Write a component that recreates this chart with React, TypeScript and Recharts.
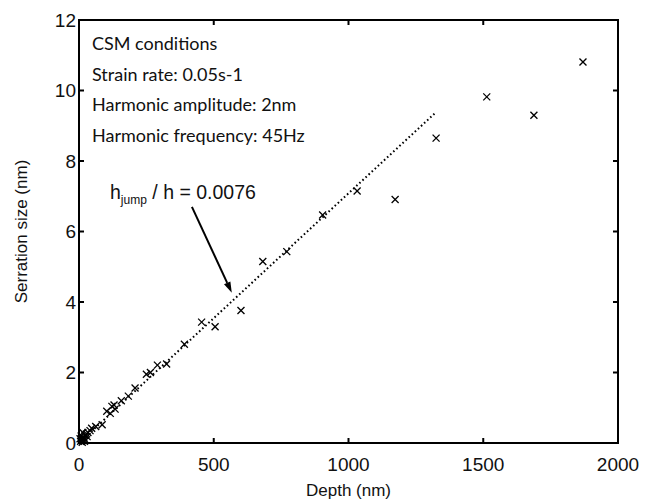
import { ScatterChart, Scatter, XAxis, YAxis, ReferenceLine, Label } from 'recharts';

// depth (nm) / serration size (nm)
const depth = [1870, 1513, 1688, 1325, 1032, 1173, 904, 771, 682, 601, 455, 505, 391, 325, 291, 265, 250, 208, 183, 157, 130, 134, 122, 103, 116, 86, 62, 47, 41, 33, 28, 22, 18, 14, 10, 8, 6, 4, 25, 12, 20, 30, 16];
const serration = [10.81, 9.82, 9.3, 8.65, 7.15, 6.91, 6.47, 5.43, 5.15, 3.76, 3.43, 3.3, 2.8, 2.24, 2.21, 2.0, 1.95, 1.56, 1.33, 1.2, 1.08, 0.96, 1.04, 0.9, 0.84, 0.52, 0.47, 0.42, 0.35, 0.3, 0.26, 0.22, 0.15, 0.3, 0.1, 0.2, 0.05, 0.12, 0.08, 0.02, 0.05, 0.18, 0.08];

// fitted line end points
const fitX = [0, 1320];
const fitY = [0, 9.35];

const xTicks = [0, 500, 1000, 1500, 2000];
const yTicks = [0, 2, 4, 6, 8, 10, 12];

const conditions = ['CSM conditions', 'Strain rate: 0.05s-1', 'Harmonic amplitude: 2nm', 'Harmonic frequency: 45Hz'];

// arrow from the label towards the fit line (data coords)
const arrowFrom = { x: 419, y: 6.7 };
const arrowTo = { x: 567, y: 4.26 };

const points = depth.map((d, i) => ({ x: d, y: serration[i] }));
const fit = fitX.map((x, i) => ({ x, y: fitY[i] }));

const xMax = xTicks[xTicks.length - 1];
const yMax = yTicks[yTicks.length - 1];

// chart box
const W = 646, H = 502;
const M = { top: 20, right: 28, bottom: 59, left: 79 };
const L = M.left, R = W - M.right, T = M.top, B = H - M.bottom;

const Cross = (props: any) => {
  const { cx, cy } = props;
  const s = 3.5;
  return (
    <g stroke="#000" strokeWidth={1.3}>
      <line x1={cx - s} y1={cy - s} x2={cx + s} y2={cy + s} />
      <line x1={cx - s} y1={cy + s} x2={cx + s} y2={cy - s} />
    </g>
  );
};

const Arrow = (props: any) => {
  const { x1, y1, x2, y2 } = props;
  const ang = Math.atan2(y2 - y1, x2 - x1);
  const len = 11, w = 3.5;
  const bx = x2 - len * Math.cos(ang);
  const by = y2 - len * Math.sin(ang);
  const px = -Math.sin(ang) * w, py = Math.cos(ang) * w;
  return (
    <g>
      <line x1={x1} y1={y1} x2={bx} y2={by} stroke="#000" strokeWidth={2} />
      <polygon points={`${x2},${y2} ${bx + px},${by + py} ${bx - px},${by - py}`} fill="#000" />
    </g>
  );
};

// box around the plot area with inward ticks on all four sides
const Frame = () => (
  <div style={{ position: 'absolute', left: 0, top: 0, width: W, height: H, pointerEvents: 'none' }}>
    <div
      style={{
        position: 'absolute',
        left: L - 1,
        top: T - 1,
        width: R - L - 2,
        height: B - T - 2,
        border: '2px solid #000',
      }}
    />
    <svg width={W} height={H} style={{ position: 'absolute', left: 0, top: 0 }}>
      <g stroke="#000" strokeWidth={2} fill="none">
        {xTicks.map((t) => {
          const x = L + ((R - L) * t) / xMax;
          return (
            <g key={`x${t}`}>
              <line x1={x} y1={B} x2={x} y2={B - 5} />
              <line x1={x} y1={T} x2={x} y2={T + 5} />
            </g>
          );
        })}
        {yTicks.map((t) => {
          const y = B - ((B - T) * t) / yMax;
          return (
            <g key={`y${t}`}>
              <line x1={L} y1={y} x2={L + 5} y2={y} />
              <line x1={R} y1={y} x2={R - 5} y2={y} />
            </g>
          );
        })}
      </g>
    </svg>
  </div>
);

const font = '"Liberation Sans", Arial, sans-serif';

export default function App() {
  return (
    <div style={{ position: 'absolute', left: 0, top: 0, width: W, height: H, background: '#fff' }}>
      <ScatterChart width={W} height={H} margin={{ top: M.top, right: M.right, bottom: 0, left: 0 }}>
        <XAxis
          xAxisId="b"
          type="number"
          dataKey="x"
          domain={[0, xMax]}
          ticks={xTicks}
          height={M.bottom}
          stroke="#000"
          strokeWidth={2}
          tickLine={false}
          tickSize={-5}
          tickMargin={20}
          tick={{ fill: '#111', fontSize: 19, fontFamily: font }}
        >
          <Label value="Depth (nm)" position="insideBottom" offset={6} style={{ fill: '#111', fontSize: 17, fontFamily: font }} />
        </XAxis>
        <YAxis
          yAxisId="l"
          type="number"
          dataKey="y"
          domain={[0, yMax]}
          ticks={yTicks}
          width={M.left}
          stroke="#000"
          strokeWidth={2}
          tickLine={false}
          tickSize={-5}
          tickMargin={8}
          tick={{ fill: '#111', fontSize: 19, fontFamily: font }}
        >
          <Label value="Serration size (nm)" angle={-90} position="insideLeft" offset={21} style={{ fill: '#111', fontSize: 17, fontFamily: font, textAnchor: 'middle' }} />
        </YAxis>
        <Scatter
          data={fit}
          xAxisId="b"
          yAxisId="l"
          line={{ stroke: '#000', strokeWidth: 2, strokeDasharray: '1.6 2.6' }}
          shape={() => null}
          isAnimationActive={false}
        />
        <Scatter data={points} xAxisId="b" yAxisId="l" shape={Cross} isAnimationActive={false} />
        <ReferenceLine
          xAxisId="b"
          yAxisId="l"
          segment={[arrowFrom, arrowTo]}
          shape={(p: any) => <Arrow x1={p.x1} y1={p.y1} x2={p.x2} y2={p.y2} />}
        />
      </ScatterChart>
      <Frame />
      <div style={{ position: 'absolute', left: 92, top: 28, fontFamily: 'Lato, "Open Sans", sans-serif', fontSize: 18, color: '#111', lineHeight: '30.5px' }}>
        {conditions.map((c) => (
          <div key={c}>{c}</div>
        ))}
      </div>
      <div style={{ position: 'absolute', left: 110, top: 181, fontFamily: font, fontSize: 19.5, color: '#111', whiteSpace: 'nowrap' }}>
        h<sub style={{ fontSize: 12 }}>jump</sub> / h = 0.0076
      </div>
    </div>
  );
}
